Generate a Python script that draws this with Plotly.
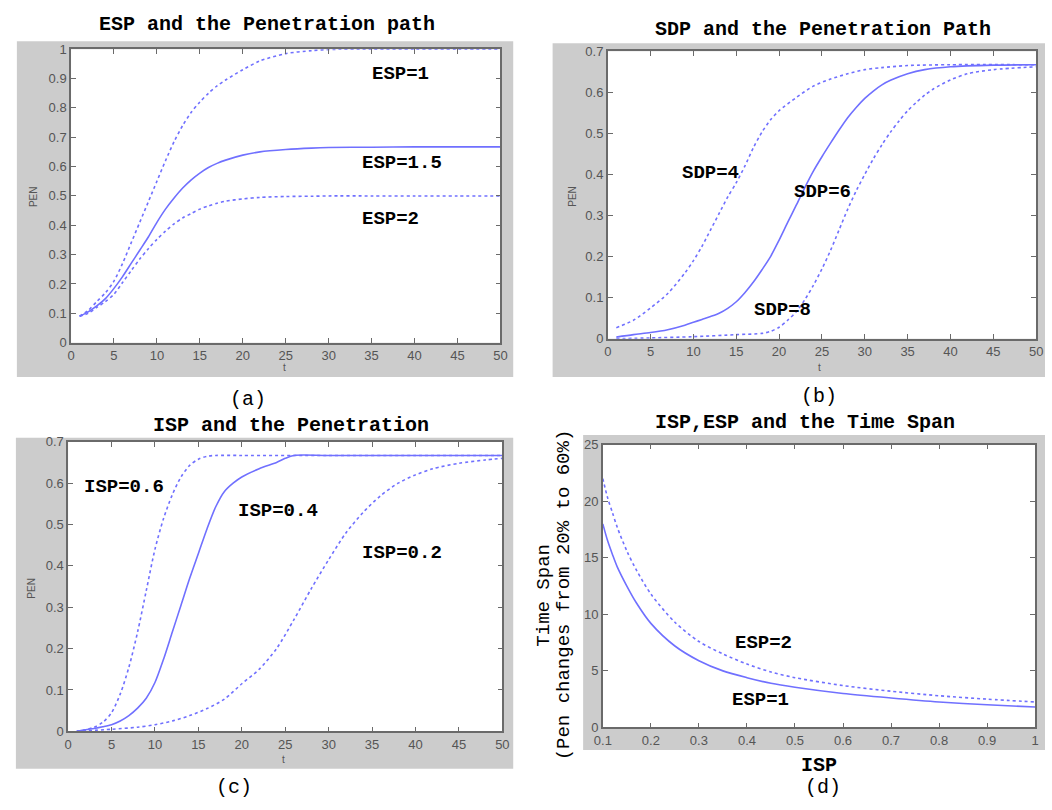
import plotly.graph_objects as go

# ---------------- data ----------------
# (a) ESP and the Penetration path
t_a = [1, 2, 3, 4, 5, 6, 7, 8, 9, 10, 11, 12, 13, 14, 15, 16, 17, 18, 20, 22, 25, 28, 30, 35, 40, 45, 50]
pen_esp1 = [0.09, 0.11, 0.14, 0.17, 0.21, 0.27, 0.34, 0.41, 0.48, 0.55, 0.62, 0.685, 0.74, 0.785, 0.82, 0.85, 0.875,
            0.895, 0.93, 0.96, 0.985, 0.995, 0.999, 1.0, 1.0, 1.0, 1.0]
pen_esp15 = [0.09, 0.105, 0.125, 0.15, 0.185, 0.225, 0.27, 0.315, 0.36, 0.41, 0.455, 0.493, 0.527, 0.555, 0.578, 0.597,
             0.611, 0.622, 0.639, 0.65, 0.658, 0.663, 0.665, 0.666, 0.667, 0.667, 0.667]
pen_esp2 = [0.09, 0.10, 0.12, 0.14, 0.165, 0.205, 0.245, 0.285, 0.32, 0.352, 0.38, 0.405, 0.425, 0.44, 0.455, 0.466,
            0.475, 0.482, 0.49, 0.495, 0.498, 0.499, 0.5, 0.5, 0.5, 0.5, 0.5]

# (b) SDP and the Penetration Path
t_sdp4 = [1, 3, 5, 7, 9, 10, 11, 12, 13, 14, 15, 16, 17, 18, 19, 20, 22, 24, 26, 28, 30, 32, 35, 40, 50]
pen_sdp4 = [0.027, 0.045, 0.075, 0.11, 0.16, 0.19, 0.225, 0.265, 0.305, 0.345, 0.38, 0.42, 0.465, 0.503, 0.533, 0.555,
            0.587, 0.615, 0.632, 0.645, 0.655, 0.66, 0.665, 0.667, 0.667]
t_sdp6 = [1, 3, 5, 7, 9, 10, 11, 12, 13, 14, 15, 16, 17, 18, 19, 20, 21, 22, 23, 24, 25, 26, 27, 28, 29, 30, 31, 32,
          33, 35, 37, 40, 45, 50]
pen_sdp6 = [0.004, 0.01, 0.015, 0.022, 0.033, 0.04, 0.047, 0.054, 0.062, 0.074, 0.09, 0.112, 0.138, 0.168, 0.2, 0.24,
            0.283, 0.325, 0.368, 0.408, 0.443, 0.476, 0.508, 0.538, 0.563, 0.585, 0.603, 0.618, 0.629, 0.645, 0.655,
            0.662, 0.666, 0.667]
t_sdp8 = [1, 5, 10, 15, 18, 19, 20, 21, 22, 23, 24, 25, 26, 27, 28, 29, 30, 31, 32, 33, 34, 35, 36, 37, 38, 40, 42,
          45, 50]
pen_sdp8 = [0.0, 0.002, 0.005, 0.01, 0.013, 0.018, 0.028, 0.045, 0.066, 0.095, 0.13, 0.17, 0.215, 0.265, 0.315, 0.36,
            0.4, 0.438, 0.472, 0.503, 0.53, 0.555, 0.575, 0.593, 0.608, 0.63, 0.645, 0.655, 0.662]

# (c) ISP and the Penetration
t_isp6 = [1, 2, 3, 4, 5, 6, 7, 8, 9, 10, 11, 12, 13, 14, 15, 16, 17, 20, 30, 40, 50]
pen_isp6 = [0.0, 0.004, 0.01, 0.022, 0.045, 0.09, 0.155, 0.24, 0.34, 0.44, 0.515, 0.572, 0.615, 0.643, 0.658, 0.665,
            0.667, 0.667, 0.667, 0.667, 0.667]
t_isp4 = [1, 2, 3, 4, 5, 6, 7, 8, 9, 10, 11, 12, 13, 14, 15, 16, 17, 18, 19, 20, 22, 24, 25, 26, 30, 40, 50]
pen_isp4 = [0.0, 0.004, 0.007, 0.011, 0.016, 0.025, 0.038, 0.056, 0.08, 0.118, 0.175, 0.24, 0.305, 0.37, 0.43, 0.49,
            0.543, 0.58, 0.6, 0.615, 0.635, 0.65, 0.66, 0.667, 0.667, 0.667, 0.667]
t_isp2 = [1, 5, 8, 10, 12, 14, 16, 18, 20, 22, 24, 26, 28, 30, 32, 34, 36, 38, 40, 42, 45, 48, 50]
pen_isp2 = [0.0, 0.005, 0.01, 0.016, 0.025, 0.038, 0.055, 0.078, 0.115, 0.15, 0.2, 0.27, 0.345, 0.415, 0.48, 0.53,
            0.57, 0.6, 0.62, 0.635, 0.648, 0.656, 0.66]

# (d) ISP, ESP and the Time Span
isp = [0.1, 0.11, 0.12, 0.13, 0.15, 0.17, 0.2, 0.25, 0.3, 0.35, 0.4, 0.45, 0.5, 0.6, 0.7, 0.8, 0.9, 1.0]
span_esp1 = [18.0, 16.5, 15.3, 14.2, 12.5, 11.0, 9.2, 7.2, 5.9, 5.0, 4.4, 3.9, 3.55, 3.0, 2.6, 2.25, 2.0, 1.8]
span_esp2 = [22.0, 20.3, 19.0, 17.7, 15.6, 13.9, 11.8, 9.3, 7.6, 6.5, 5.6, 4.9, 4.4, 3.7, 3.2, 2.8, 2.5, 2.25]
isp_ticks = [0.1, 0.2, 0.3, 0.4, 0.5, 0.6, 0.7, 0.8, 0.9, 1.0]
isp_tick_text = ["0.1", "0.2", "0.3", "0.4", "0.5", "0.6", "0.7", "0.8", "0.9", "1"]

# ---------------- layout helpers ----------------
W, H = 1052, 810
def fx(p): return p / W
def fy(p): return 1 - p / H

LINE = "#7070ff"
MONO = "Liberation Mono"
SANS = "Liberation Sans"

fig = go.Figure()

def add(x, y, ax, dash):
    fig.add_trace(go.Scatter(x=x, y=y, mode="lines", line=dict(color=LINE, width=1.6, dash=dash, shape="spline",
                                                                  smoothing=0.8),
                             xaxis="x" + ax, yaxis="y" + ax, showlegend=False, hoverinfo="skip"))

add(t_a, pen_esp1, "", "dot")
add(t_a, pen_esp15, "", "solid")
add(t_a, pen_esp2, "", "dot")
add(t_sdp4, pen_sdp4, "2", "dot")
add(t_sdp6, pen_sdp6, "2", "solid")
add(t_sdp8, pen_sdp8, "2", "dot")
add(t_isp6, pen_isp6, "3", "dot")
add(t_isp4, pen_isp4, "3", "solid")
add(t_isp2, pen_isp2, "3", "dot")
add(isp, span_esp2, "4", "dot")
add(isp, span_esp1, "4", "solid")

# plot areas in pixels: (left, top, right, bottom)
areas = {
    "": (63, 43, 499, 342),
    "2": (608, 45, 1043, 338),
    "3": (60, 443, 501, 738),
    "4": (603, 446, 1042, 734),
}
gray = [(8, 35, 512, 377), (552, 37, 1052, 377), (7, 439, 512, 776), (583, 436, 1052, 757)]

axis_common = dict(showline=True, mirror="ticks", linecolor="#6a6a6a", linewidth=1.5, ticks="inside", ticklen=5,
                   tickcolor="#6a6a6a", showgrid=False, zeroline=False, ticklabeloverflow="allow",
                   tickfont=dict(family=SANS, size=13, color="#555555"))

lay = {}
ranges = {
    "": ([0, 50], 5, [0, 1], 0.1),
    "2": ([0, 50], 5, [0, 0.7], 0.1),
    "3": ([0, 50], 5, [0, 0.7], 0.1),
}
for k, (l, t, r, b) in areas.items():
    xa = dict(axis_common, domain=[fx(l), fx(r)], anchor="y" + k)
    ya = dict(axis_common, domain=[fy(b), fy(t)], anchor="x" + k)
    if k in ranges:
        xr, xd, yr, yd = ranges[k]
        xa.update(range=xr, dtick=xd, tick0=0)
        ya.update(range=yr, dtick=yd, tick0=0)
    else:
        xa.update(range=[0.1, 1.0], tickvals=isp_ticks, ticktext=isp_tick_text)
        ya.update(range=[0, 25], dtick=5, tick0=0)
    lay["xaxis" + k] = xa
    lay["yaxis" + k] = ya

shapes = []
for (l, t, r, b) in gray:
    shapes.append(dict(type="rect", xref="paper", yref="paper", x0=fx(l), x1=fx(r), y0=fy(b), y1=fy(t),
                       fillcolor="#cccccc", line=dict(width=0), layer="below"))
for (l, t, r, b) in areas.values():
    shapes.append(dict(type="rect", xref="paper", yref="paper", x0=fx(l), x1=fx(r), y0=fy(b), y1=fy(t),
                       fillcolor="white", line=dict(width=0), layer="below"))

ann = []
def text(s, x, y, size=19, family=MONO, color="black", angle=0, bold=True):
    if bold:
        s = "<b>" + s + "</b>"
    ann.append(dict(text=s, x=fx(x), y=fy(y), xref="paper", yref="paper", showarrow=False, xanchor="center",
                    yanchor="middle", textangle=angle, font=dict(family=family, size=size, color=color)))

# titles
text("ESP and the Penetration path", 262, 18, 20)
text("SDP and the Penetration Path", 827, 23, 20)
text("ISP and the Penetration", 286, 426, 20)
text("ISP,ESP and the Time Span", 808, 423, 20)
# subfigure labels
text("(a)", 243, 400, 20, bold=False)
text("(b)", 823, 397, 20, bold=False)
text("(c)", 228, 795, 20, bold=False)
text("(d)", 827, 795, 20, bold=False)
# axis labels
for (x, y) in [(25, 193), (572, 193), (22, 592)]:
    text("PEN", x, y, 10, SANS, "#555555", -90, bold=False)
for (x, y) in [(280, 367), (823, 367), (279, 767)]:
    text("t", x, y, 10, SANS, "#555555", bold=False)
text("ISP", 823, 773, 20)
text("Time Span", 543, 599, 19, MONO, "black", -90, bold=False)
text("(Pen changes from 20% to 60%)", 563, 599, 19, MONO, "black", -90, bold=False)
# curve labels
text("ESP=1", 398, 68)
text("ESP=1.5", 399, 159)
text("ESP=2", 387, 216)
text("SDP=4", 712, 169)
text("SDP=6", 826, 188)
text("SDP=8", 785, 309)
text("ISP=0.6", 117, 489)
text("ISP=0.4", 273, 514)
text("ISP=0.2", 399, 556)
text("ESP=2", 766, 648)
text("ESP=1", 763, 706)

fig.update_layout(width=W, height=H, margin=dict(l=0, r=0, t=0, b=0), paper_bgcolor="white",
                  plot_bgcolor="white", shapes=shapes, annotations=ann, **lay)

fig.write_html("out.html", config={"displayModeBar": False},
               post_script="document.body.style.margin='0';document.body.style.overflow='hidden';")
